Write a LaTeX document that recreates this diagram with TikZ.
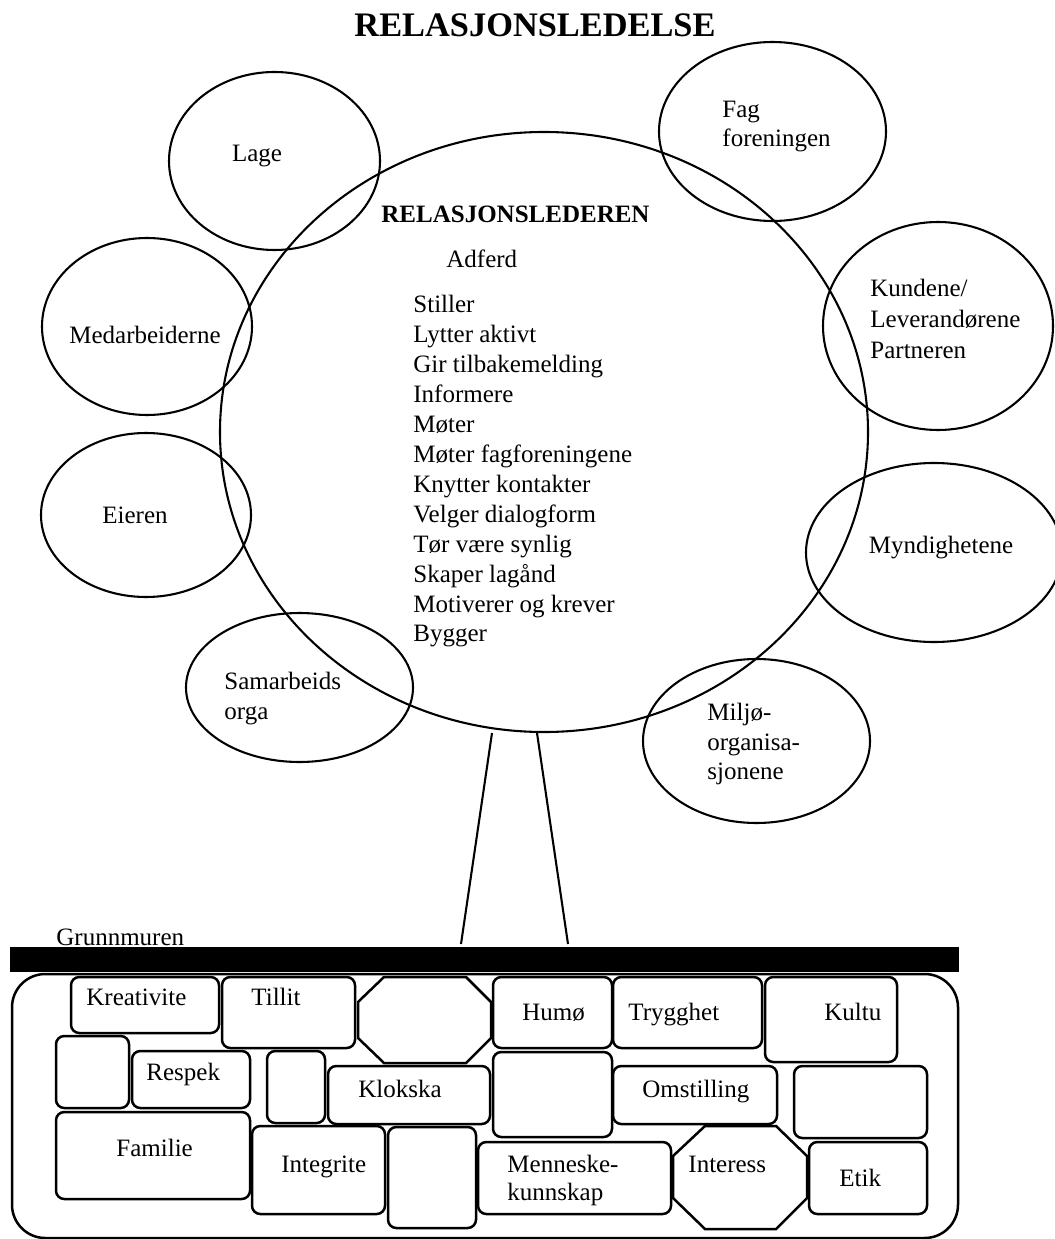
\documentclass[tikz,border=0pt]{standalone}
\usepackage{fontspec}
\setmainfont{Liberation Serif}
\usetikzlibrary{shapes.geometric}
\begin{document}
\begin{tikzpicture}[x=0.48pt,y=-0.48pt,
  txt/.style={inner sep=0pt, font=\fontsize{12pt}{14pt}\selectfont},
  bub/.style 2 args={draw, ellipse, line width=1pt, inner sep=0pt, minimum width={#1*0.96pt}, minimum height={#2*0.96pt}},
  brick/.style={draw, line width=1.2pt, rounded corners=4pt},
  octa/.style={draw, line width=1.2pt},
  trunk/.style={line width=1pt}]
\useasboundingbox (0,0) rectangle (1054,1239);

% title
\node[inner sep=0pt, anchor=base, font=\fontsize{16.5pt}{19pt}\selectfont\bfseries] (title) at (535,37) {RELASJONSLEDELSE};

% central ellipse
\node[bub={324}{300}] (leder) at (544,432) {};
\node[txt, anchor=base west, font=\fontsize{12pt}{14pt}\selectfont\bfseries] (lederT) at (381,223) {RELASJONSLEDEREN};
\node[txt, anchor=base west] (adferd) at (446,268) {Adferd};
\foreach \t [count=\i from 0] in {Stiller, Lytter aktivt, Gir tilbakemelding, Informere, Møter, Møter fagforeningene, Knytter kontakter, Velger dialogform, Tør være synlig, Skaper lagånd, Motiverer og krever, Bygger}
  \node[txt, anchor=base west] (item\i) at (413,{313+29.9*\i}) {\t};

% satellite ellipses
\node[bub={105.5}{89}] (lage) at (274.5,161) {};
\node[txt, anchor=base] (lageT) at (257,162) {Lage};

\node[bub={113.5}{89.5}] (fag) at (772.5,131.5) {};
\node[txt, anchor=base west] (fagT1) at (722,118) {Fag};
\node[txt, anchor=base west] (fagT2) at (722,147) {foreningen};

\node[bub={105}{88.5}] (medarb) at (147,326.5) {};
\node[txt, anchor=base] (medarbT) at (145,343) {Medarbeiderne};

\node[bub={115}{104}] (kunde) at (938,326) {};
\node[txt, anchor=base west] (kundeT1) at (870,297) {Kundene/};
\node[txt, anchor=base west] (kundeT2) at (870,328) {Leverandørene};
\node[txt, anchor=base west] (kundeT3) at (870,358) {Partneren};

\node[bub={128}{89.5}] (mynd) at (934,552.5) {};
\node[txt, anchor=base] (myndT) at (941,553) {Myndighetene};

\node[bub={113.5}{82}] (miljo) at (756.5,741) {};
\node[txt, anchor=base west] (miljoT1) at (707,720) {Miljø-};
\node[txt, anchor=base west] (miljoT2) at (707,750) {organisa-};
\node[txt, anchor=base west] (miljoT3) at (707,779) {sjonene};

\node[bub={105}{82}] (eier) at (146,515) {};
\node[txt, anchor=base] (eierT) at (135,523) {Eieren};

\node[bub={113.5}{74.5}] (samarb) at (299.5,687.5) {};
\node[txt, anchor=base west] (samarbT1) at (224,689) {Samarbeids};
\node[txt, anchor=base west] (samarbT2) at (224,719) {orga};

% foundation bar
\node[fill=black, draw=none, inner sep=0pt, anchor=north west, minimum width={949*0.48pt}, minimum height={25*0.48pt}] (bar) at (10,947) {};
\node[txt, anchor=base west] (grunn) at (56,945) {Grunnmuren};

% trunk
\coordinate (tl1) at (492,733);
\coordinate (tl2) at (461,944);
\coordinate (tr1) at (537,733);
\coordinate (tr2) at (568,944);
\draw[trunk] (tl1) -- (tl2);
\draw[trunk] (tr1) -- (tr2);

% wall container
\draw[line width=1.2pt, rounded corners=16pt] (12,974) rectangle (958,1238);

% bricks
\draw[brick] (71,977) rectangle (219,1033);
\draw[brick] (222,977) rectangle (355,1048);
\draw[brick] (56,1036) rectangle (129,1108);
\draw[brick] (132,1051) rectangle (250,1108);
\draw[brick] (267,1051) rectangle (325,1123);
\draw[brick] (328,1066) rectangle (490,1124);
\draw[brick] (56,1112) rectangle (250,1199);
\draw[brick] (252,1126) rectangle (385,1214);
\draw[brick] (388,1127) rectangle (476,1228);
\draw[brick] (478,1142) rectangle (671,1214);
\draw[brick] (493,977) rectangle (612,1048);
\draw[brick] (613,977) rectangle (762,1048);
\draw[brick] (765,977) rectangle (897,1062);
\draw[brick] (493,1052) rectangle (612,1137);
\draw[brick] (613,1066) rectangle (777,1124);
\draw[brick] (794,1066) rectangle (927,1138);
\draw[brick] (809,1142) rectangle (927,1214);

% octagons
\draw[octa] (384,977) -- (466,977) -- (491,1002) -- (491,1038) -- (466,1063) -- (384,1063) -- (358,1038) -- (358,1002) -- cycle;
\draw[octa] (705,1126) -- (776,1126) -- (807,1156) -- (807,1198) -- (776,1229) -- (705,1229) -- (673,1198) -- (673,1156) -- cycle;

% brick texts
\node[txt, anchor=base west] (bKre) at (86,1005) {Kreativite};
\node[txt, anchor=base west] (bTil) at (251,1005) {Tillit};
\node[txt, anchor=base west] (bRes) at (146,1080) {Respek};
\node[txt, anchor=base west] (bKlo) at (358,1097) {Klokska};
\node[txt, anchor=base west] (bFam) at (116,1156) {Familie};
\node[txt, anchor=base west] (bInt) at (281,1172) {Integrite};
\node[txt, anchor=base west] (bMen1) at (507,1172) {Menneske-};
\node[txt, anchor=base west] (bMen2) at (507,1200) {kunnskap};
\node[txt, anchor=base west] (bHum) at (522,1020) {Humø};
\node[txt, anchor=base west] (bTry) at (628,1020) {Trygghet};
\node[txt, anchor=base west] (bKul) at (824,1020) {Kultu};
\node[txt, anchor=base west] (bOms) at (642,1097) {Omstilling};
\node[txt, anchor=base west] (bIntr) at (688,1172) {Interess};
\node[txt, anchor=base west] (bEti) at (839,1186) {Etik};
\end{tikzpicture}
\end{document}
